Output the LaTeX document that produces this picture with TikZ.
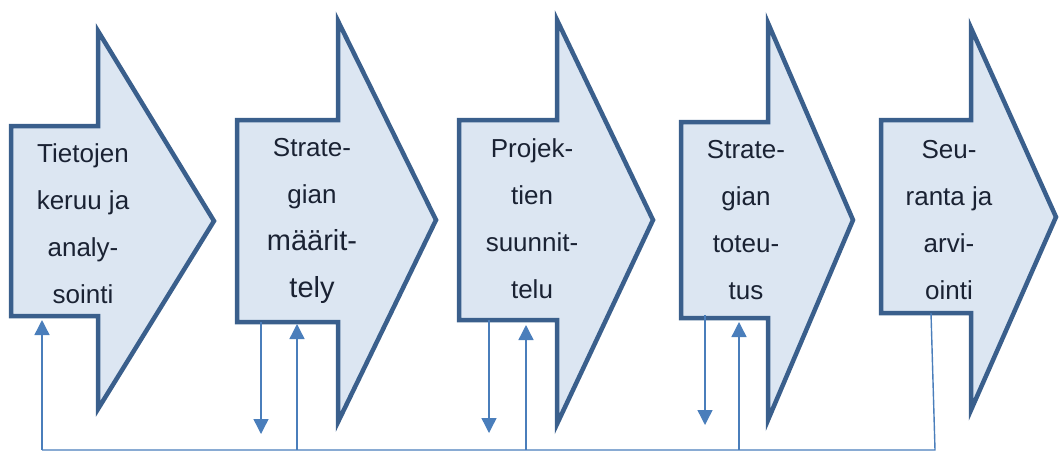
\documentclass[tikz,border=0pt]{standalone}
\usepackage{fontspec}
\setmainfont{Liberation Sans}
\usetikzlibrary{arrows.meta}

\definecolor{phasefill}{HTML}{DCE6F2}
\definecolor{phaseline}{HTML}{3A5F8C}
\definecolor{loopline}{HTML}{4A7EBB}
\definecolor{phaseink}{HTML}{1A2233}

\begin{document}
\begin{tikzpicture}[x=1pt,y=-1pt,
        phase/.style={fill=phasefill,draw=phaseline,line width=4.5pt,miter limit=10},
        phasetext/.style={text=phaseink,align=center,font=\fontsize{26}{47}\selectfont},
        feed/.style={draw=loopline,line width=1.4pt},
        feedarrow/.style={feed,-{Triangle[width=15pt,length=15pt]}}]
        \useasboundingbox (0,0) rectangle (1059,451);
        \clip (0,0) rectangle (1059,451);
        % phases
        \draw[phase] (11,126) -- (98,126) -- (98,31) -- (214,221) -- (98,409) -- (98,316) -- (11,316) -- cycle;
        \draw[phase] (237,120) -- (338,120) -- (338,21) -- (436,220) -- (338,422) -- (338,322) -- (237,322) -- cycle;
        \draw[phase] (459,120) -- (557,120) -- (557,20) -- (653,220) -- (557,424) -- (557,320) -- (459,320) -- cycle;
        \draw[phase] (681,122) -- (768,122) -- (768,23) -- (853,220) -- (768,420) -- (768,318) -- (681,318) -- cycle;
        \draw[phase] (881,120) -- (971,120) -- (971,28) -- (1056,217) -- (971,410) -- (971,313) -- (881,313) -- cycle;
        \node[phasetext] (t1) at (83,224) {Tietojen\\keruu ja\\analy-\\sointi};
        \node[phasetext] (t2) at (312,221) {Strate-\\gian\\{\fontsize{29}{47}\selectfont määrit-}\\{\fontsize{29}{47}\selectfont tely}};
        \node[phasetext] (t3) at (532,219) {Projek-\\tien\\suunnit-\\telu};
        \node[phasetext] (t4) at (746,220) {Strate-\\gian\\toteu-\\tus};
        \node[phasetext] (t5) at (949,220) {Seu-\\ranta ja\\arvi-\\ointi};
        % feedback points
        \coordinate (in1) at (42,320);
        \coordinate (in2) at (297,324);
        \coordinate (in3) at (526,325);
        \coordinate (in4) at (739,322);
        \coordinate (out2) at (261,322);
        \coordinate (out3) at (489,320);
        \coordinate (out4) at (705,315);
        \coordinate (out5) at (931,313);
        \coordinate (drop2) at (261,434);
        \coordinate (drop3) at (489,433);
        \coordinate (drop4) at (705,425);
        \coordinate (base1) at (42,450);
        \coordinate (base2) at (297,450);
        \coordinate (base3) at (526,450);
        \coordinate (base4) at (739,450);
        \coordinate (base5) at (935,450);
        % feedback loop
        \draw[feed] (out5) -- (base5) -- (base1);
        \draw[feedarrow] (base1) -- (in1);
        \draw[feedarrow] (base2) -- (in2);
        \draw[feedarrow] (base3) -- (in3);
        \draw[feedarrow] (base4) -- (in4);
        \draw[feedarrow] (out2) -- (drop2);
        \draw[feedarrow] (out3) -- (drop3);
        \draw[feedarrow] (out4) -- (drop4);
\end{tikzpicture}
\end{document}
